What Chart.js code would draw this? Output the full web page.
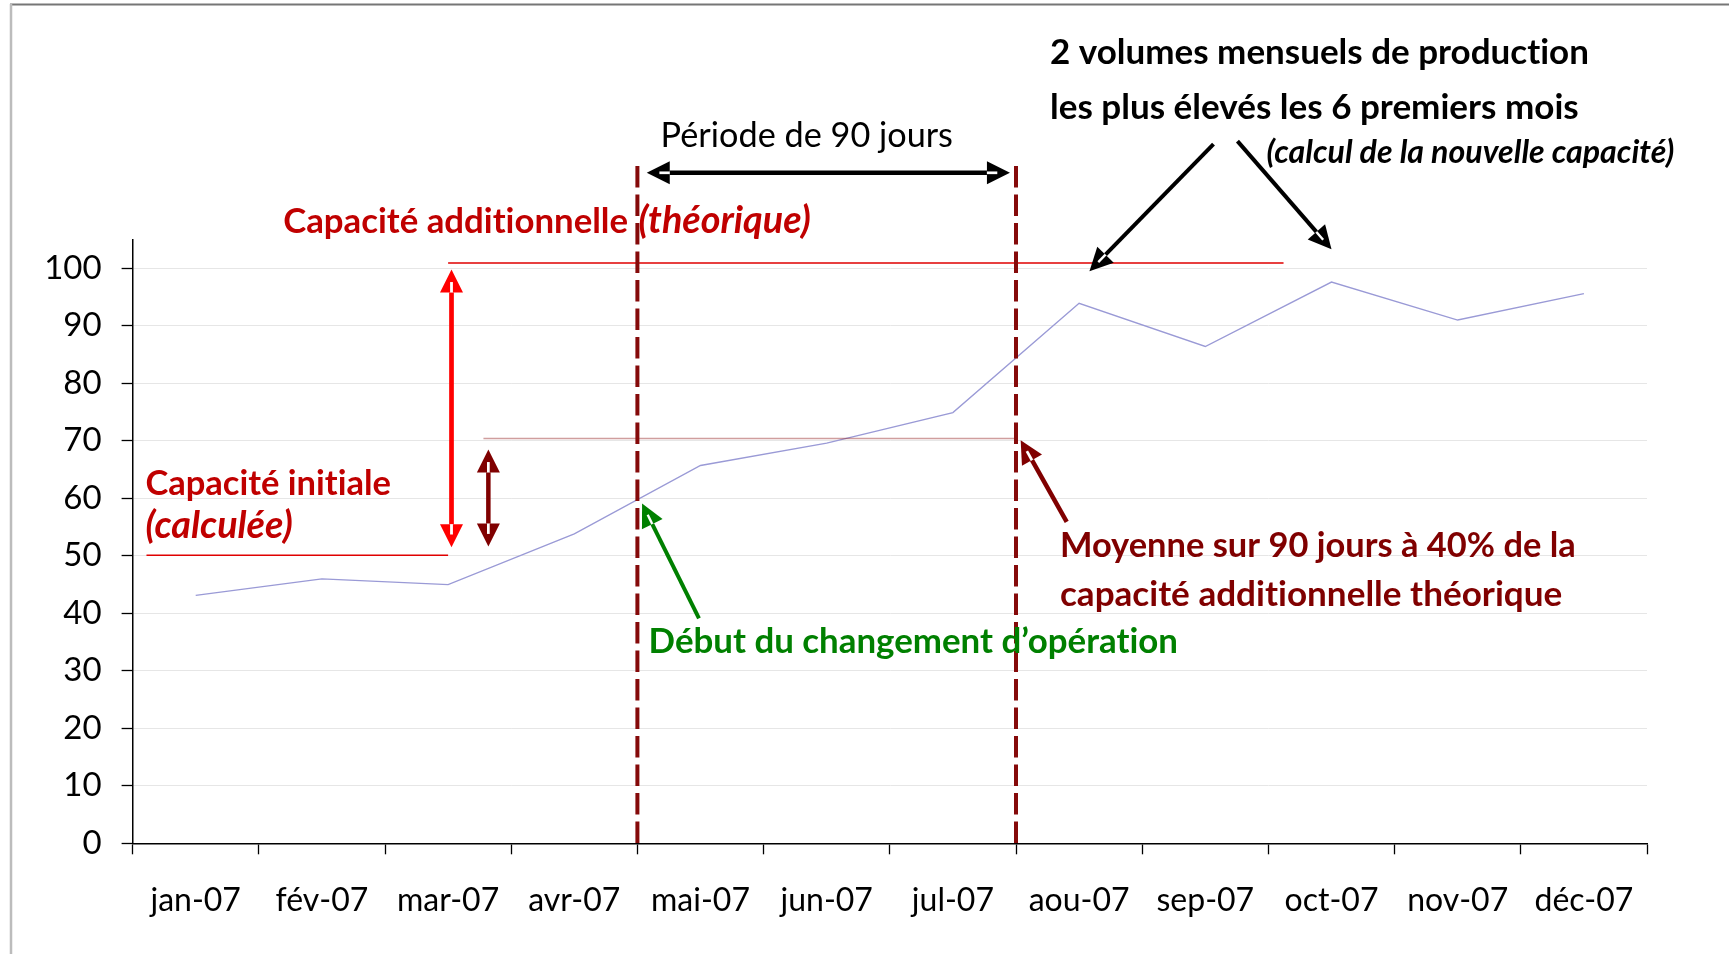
<!DOCTYPE html>
<html>
<head>
<meta charset="utf-8">
<script src="https://cdn.jsdelivr.net/npm/chart.js@4.4.1/dist/chart.umd.min.js"></script>
<style>
  html, body { margin: 0; padding: 0; background: #ffffff; }
  canvas { display: block; }
</style>
</head>
<body>
<canvas id="chart" width="1729" height="954"></canvas>
<script>
// ---------- Données ----------
const categories = ['jan-07', 'fév-07', 'mar-07', 'avr-07', 'mai-07', 'jun-07',
                    'jul-07', 'aou-07', 'sep-07', 'oct-07', 'nov-07', 'déc-07'];
const production = [43.1, 46.0, 45.0, 53.8, 65.7, 69.6, 74.9, 93.9, 86.4, 97.6, 91.0, 95.6];
const yTickValues = [0, 10, 20, 30, 40, 50, 60, 70, 80, 90, 100];
const yMin = 0;
const yMax = 105;

// ---------- Repères (coordonnées de données : indice du mois, valeur) ----------
const periodBounds = [3.5, 6.5];            // début / fin de la période de 90 jours
const periodTop = 117.8;                    // haut des pointillés
const capaciteInitiale = 50.1;
const capaciteInitialeSpan = [-0.39, 2.0];
const capaciteTheorique = 100.9;
const capaciteTheoriqueSpan = [2.0, 8.62];
const moyenne90 = 70.4;
const moyenne90Span = [2.28, 6.5];

// flèches : [x1, v1, x2, v2] (pointe en x2, v2)
const arrowRedDouble   = [2.027, 51.5, 2.027, 99.8];
const arrowDarkDouble  = [2.319, 51.6, 2.319, 68.5];
const arrowPeriod      = [3.574, 116.6, 6.452, 116.6];
const arrowGreen       = [3.988, 39.1, 3.537, 59.1];
const arrowMoyenne     = [6.902, 55.9, 6.537, 70.1];
const arrowPeak1       = [8.065, 121.6, 7.082, 99.5];
const arrowPeak2       = [8.255, 122.1, 9.0, 103.3];

const FAMILY = 'Lato, "Open Sans", "DejaVu Sans", sans-serif';

// ---------- Textes ----------
const texts = [
  { t: '2 volumes mensuels de production',     x: 1050,  y: 64,    w: 539,   s: 'bold',        c: '#000000' },
  { t: 'les plus élevés les 6 premiers mois',  x: 1050,  y: 119,   w: 529,   s: 'bold',        c: '#000000' },
  { t: '(calcul de la nouvelle capacité)',     x: 1266.5,y: 162.5, w: 408,   s: 'italic bold', c: '#000000' },
  { t: 'Période de 90 jours',                  x: 660.6, y: 146.5, w: 292.5, s: 'normal',      c: '#000000' },
  { t: 'Capacité additionnelle',               x: 283.2, y: 233.3, w: 345,   s: 'bold',        c: '#C00000' },
  { t: '(théorique)',                          x: 638.6, y: 233.3, w: 172.4, s: 'italic bold', c: '#C00000' },
  { t: 'Capacité initiale',                    x: 145.4, y: 495,   w: 245.7, s: 'bold',        c: '#C00000' },
  { t: '(calculée)',                           x: 145.4, y: 538.3, w: 147.4, s: 'italic bold', c: '#C00000' },
  { t: 'Début du changement d’opération',      x: 648.6, y: 653.3, w: 529.4, s: 'bold',        c: '#008000' },
  { t: 'Moyenne sur 90 jours à 40% de la',     x: 1059.9,y: 557,   w: 516,   s: 'bold',        c: '#800000' },
  { t: 'capacité additionnelle théorique',     x: 1059.9,y: 606,   w: 502.5, s: 'bold',        c: '#800000' }
];

function fitText(ctx, item) {
  let size = 30;
  ctx.font = `${item.s} ${size}px ${FAMILY}`;
  const w = ctx.measureText(item.t).width;
  size = size * item.w / w;
  ctx.font = `${item.s} ${size}px ${FAMILY}`;
  ctx.fillStyle = item.c;
  ctx.textAlign = 'left';
  ctx.textBaseline = 'alphabetic';
  ctx.fillText(item.t, item.x, item.y);
}

function head(ctx, tx, ty, ang, len, wid, color, lw) {
  const c = Math.cos(ang), s = Math.sin(ang);
  const bx = tx - len * c, by = ty - len * s;
  ctx.fillStyle = color;
  ctx.beginPath();
  ctx.moveTo(tx, ty);
  ctx.lineTo(bx - (wid / 2) * s, by + (wid / 2) * c);
  ctx.lineTo(bx + (wid / 2) * s, by - (wid / 2) * c);
  ctx.closePath();
  ctx.fill();
  ctx.strokeStyle = '#ffffff';
  ctx.lineWidth = lw * 0.6;
  ctx.lineCap = 'butt';
  ctx.beginPath();
  ctx.moveTo(bx, by);
  ctx.lineTo(bx + len * 0.45 * c, by + len * 0.45 * s);
  ctx.stroke();
}

function arrow(ctx, x1, y1, x2, y2, color, lw, both) {
  const len = 23, wid = 23;
  const ang = Math.atan2(y2 - y1, x2 - x1);
  const c = Math.cos(ang), s = Math.sin(ang);
  const sx = both ? x1 + len * c : x1, sy = both ? y1 + len * s : y1;
  const ex = x2 - len * c, ey = y2 - len * s;
  ctx.strokeStyle = color;
  ctx.lineWidth = lw;
  ctx.lineCap = 'butt';
  ctx.beginPath();
  ctx.moveTo(sx, sy);
  ctx.lineTo(ex, ey);
  ctx.stroke();
  head(ctx, x2, y2, ang, len, wid, color, lw);
  if (both) head(ctx, x1, y1, ang + Math.PI, len, wid, color, lw);
}

const annotationPlugin = {
  id: 'annotations',
  afterDraw(chart) {
    const ctx = chart.ctx;
    const sx = chart.scales.x, sy = chart.scales.y;
    const X = v => sx.getPixelForValue(v);
    const Y = v => sy.getPixelForValue(v);
    ctx.save();

    // cadre de l'image
    ctx.strokeStyle = '#767676';
    ctx.lineWidth = 2;
    ctx.beginPath(); ctx.moveTo(10, 4.5); ctx.lineTo(1729, 4.5); ctx.stroke();
    ctx.strokeStyle = '#bcbcbc';
    ctx.lineWidth = 2.5;
    ctx.beginPath(); ctx.moveTo(11, 4); ctx.lineTo(11, 954); ctx.stroke();

    // lignes horizontales de capacité
    ctx.lineWidth = 1.5;
    ctx.strokeStyle = '#E00000';
    ctx.beginPath();
    ctx.moveTo(X(capaciteInitialeSpan[0]), Y(capaciteInitiale));
    ctx.lineTo(X(capaciteInitialeSpan[1]), Y(capaciteInitiale));
    ctx.moveTo(X(capaciteTheoriqueSpan[0]), Y(capaciteTheorique));
    ctx.lineTo(X(capaciteTheoriqueSpan[1]), Y(capaciteTheorique));
    ctx.stroke();
    ctx.strokeStyle = 'rgba(150,40,40,0.45)';
    ctx.lineWidth = 1.6;
    ctx.beginPath();
    ctx.moveTo(X(moyenne90Span[0]), Y(moyenne90));
    ctx.lineTo(X(moyenne90Span[1]), Y(moyenne90));
    ctx.stroke();

    // pointillés de la période
    ctx.strokeStyle = '#850a0a';
    ctx.lineWidth = 4;
    ctx.setLineDash([21.5, 7]);
    periodBounds.forEach(b => {
      ctx.beginPath();
      ctx.moveTo(X(b), Y(periodTop));
      ctx.lineTo(X(b), Y(0));
      ctx.stroke();
    });
    ctx.setLineDash([]);

    // flèches
    const A = (a, color, lw, both) => arrow(ctx, X(a[0]), Y(a[1]), X(a[2]), Y(a[3]), color, lw, both);
    A(arrowRedDouble, '#FF0000', 4.7, true);
    A(arrowDarkDouble, '#800000', 4.5, true);
    A(arrowPeriod, '#000000', 4.5, true);
    A(arrowGreen, '#008000', 4, false);
    A(arrowMoyenne, '#800000', 4.5, false);
    A(arrowPeak1, '#000000', 4, false);
    A(arrowPeak2, '#000000', 4, false);

    // textes (sans ligatures)
    if ('textRendering' in ctx) ctx.textRendering = 'optimizeSpeed';
    texts.forEach(item => fitText(ctx, item));
    ctx.restore();
  }
};

function build() {
  new Chart(document.getElementById('chart'), {
    type: 'line',
    data: {
      labels: categories,
      datasets: [{
        data: production,
        borderColor: '#9a9ad6',
        borderWidth: 1.3,
        pointRadius: 0,
        tension: 0,
        fill: false
      }]
    },
    options: {
      responsive: false,
      animation: false,
      devicePixelRatio: 1,
      layout: { padding: { top: 239.5, right: 82, bottom: 0, left: 0 } },
      plugins: { legend: { display: false }, tooltip: { enabled: false } },
      scales: {
        x: {
          type: 'category',
          offset: true,
          afterFit(s) { s.height = 110.7; },
          grid: { display: true, drawOnChartArea: false, drawTicks: true, tickLength: 11,
                  tickColor: '#000000', tickWidth: 1.3, offset: true },
          border: { color: '#000000', width: 1.5 },
          ticks: { font: { family: FAMILY, size: 32 }, color: '#000000', padding: 27,
                   maxRotation: 0, autoSkip: false }
        },
        y: {
          min: yMin,
          max: yMax,
          afterFit(s) { s.width = 132.6; },
          afterBuildTicks(s) { s.ticks = yTickValues.map(v => ({ value: v })); },
          grid: { color: '#e6e6e6', lineWidth: 1, tickLength: 11, tickColor: '#000000', tickWidth: 1.3 },
          border: { color: '#000000', width: 1.5 },
          ticks: { font: { family: FAMILY, size: 33 }, color: '#000000', padding: 20 }
        }
      }
    },
    plugins: [annotationPlugin]
  });
}

const fontLoads = ['normal 30px Lato', 'bold 30px Lato', 'italic bold 30px Lato', 'italic 30px Lato']
  .map(f => document.fonts.load(f).catch(() => null));
Promise.all(fontLoads).then(build, build);
</script>
</body>
</html>
